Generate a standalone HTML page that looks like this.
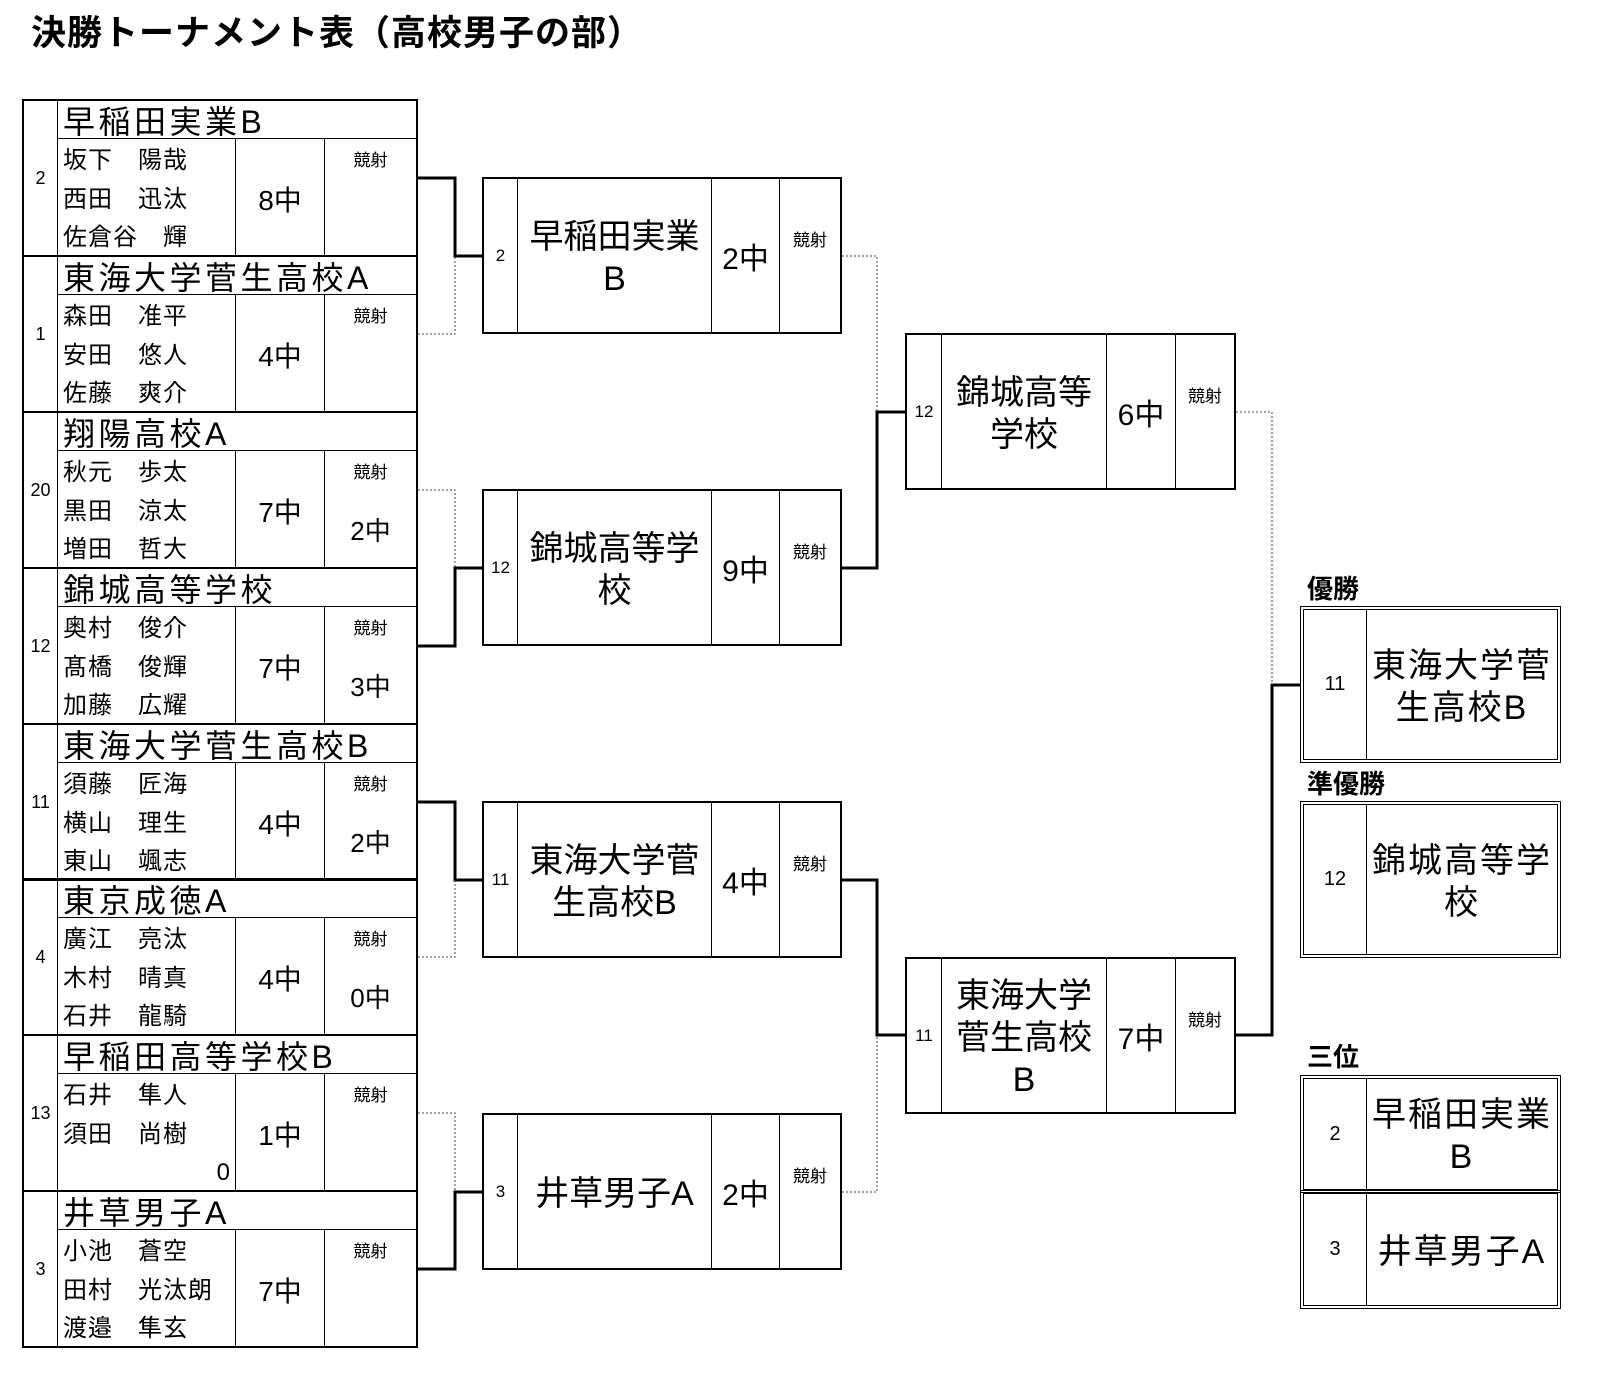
<!DOCTYPE html>
<html><head><meta charset="utf-8"><style>
*{box-sizing:border-box;margin:0;padding:0}
body{width:1613px;height:1388px;background:#fff;position:relative;overflow:hidden;font-family:"Liberation Sans","Noto Sans CJK JP",sans-serif;color:#000}
.a{position:absolute}
.title{left:31px;top:12px;font-size:35px;font-weight:bold;letter-spacing:1px;white-space:nowrap;line-height:44px}
.blk{position:absolute;left:22px;width:396px;height:158px;border:2px solid #000}
.blk .num{position:absolute;left:0;top:0;width:34px;height:154px;border-right:1px solid #000;display:flex;align-items:center;justify-content:center;font-size:18px}
.blk .tn{position:absolute;left:34px;top:0;width:358px;height:38px;border-bottom:1px solid #000;font-size:32px;line-height:42px;padding-left:5px;letter-spacing:3.5px;white-space:nowrap}
.blk .pl{position:absolute;left:34px;top:38px;width:178px;height:116px;border-right:1px solid #000;font-size:24px;line-height:38.5px;padding-left:5px;padding-top:3px;white-space:nowrap;letter-spacing:1px}
.blk .sc{position:absolute;left:212px;top:38px;width:89px;height:116px;border-right:1px solid #000;font-size:28px;display:flex;align-items:center;justify-content:center;padding-top:4px}
.blk .ky{position:absolute;left:301px;top:38px;width:91px;height:116px;text-align:center}
.ky .k{position:absolute;left:0;width:100%;top:12px;font-size:17px;line-height:20px}
.ky .s2{position:absolute;left:0;width:100%;top:64px;font-size:26px;line-height:32px}
.box{position:absolute;border:2px solid #000;height:157px}
.box div{position:absolute;top:0;height:100%}
.box .n{border-right:1px solid #000;display:flex;align-items:center;justify-content:center;font-size:17px}
.box .nm{border-right:1px solid #000;display:flex;align-items:center;justify-content:center;text-align:center;font-size:34px;line-height:42px;padding-top:4px}
.box .s{border-right:1px solid #000;display:flex;align-items:center;justify-content:center;font-size:30px}
.box .k{font-size:17px;text-align:center;padding-top:47px}
.fb{position:absolute;left:1300px;width:261px;border:4px double #000}
.fb .n{position:absolute;left:0;top:0;width:63px;height:100%;border-right:1px solid #000;display:flex;align-items:center;justify-content:center;font-size:20px}
.fb .nm{position:absolute;left:63px;top:0;right:0;height:100%;display:flex;align-items:center;justify-content:center;text-align:center;font-size:34px;line-height:42px;letter-spacing:2px;padding-top:4px}
.lab{position:absolute;left:1307px;font-size:26px;font-weight:bold;line-height:30px}
</style></head><body>
<div class="a title">決勝トーナメント表（高校男子の部）</div>

<div class="blk" style="top:99px"><div class="num">2</div><div class="tn">早稲田実業B</div><div class="pl">坂下　陽哉<br>西田　迅汰<br>佐倉谷　輝</div><div class="sc">8中</div><div class="ky"><div class="k">競射</div></div></div>
<div class="blk" style="top:255px"><div class="num">1</div><div class="tn">東海大学菅生高校A</div><div class="pl">森田　准平<br>安田　悠人<br>佐藤　爽介</div><div class="sc">4中</div><div class="ky"><div class="k">競射</div></div></div>
<div class="blk" style="top:411px"><div class="num">20</div><div class="tn">翔陽高校A</div><div class="pl">秋元　歩太<br>黒田　涼太<br>増田　哲大</div><div class="sc">7中</div><div class="ky"><div class="k">競射</div><div class="s2">2中</div></div></div>
<div class="blk" style="top:567px"><div class="num">12</div><div class="tn">錦城高等学校</div><div class="pl">奥村　俊介<br>髙橋　俊輝<br>加藤　広耀</div><div class="sc">7中</div><div class="ky"><div class="k">競射</div><div class="s2">3中</div></div></div>
<div class="blk" style="top:723px"><div class="num">11</div><div class="tn">東海大学菅生高校B</div><div class="pl">須藤　匠海<br>横山　理生<br>東山　颯志</div><div class="sc">4中</div><div class="ky"><div class="k">競射</div><div class="s2">2中</div></div></div>
<div class="blk" style="top:878px"><div class="num">4</div><div class="tn">東京成徳A</div><div class="pl">廣江　亮汰<br>木村　晴真<br>石井　龍騎</div><div class="sc">4中</div><div class="ky"><div class="k">競射</div><div class="s2">0中</div></div></div>
<div class="blk" style="top:1034px"><div class="num">13</div><div class="tn">早稲田高等学校B</div><div class="pl">石井　隼人<br>須田　尚樹<br><div style="text-align:right;padding-right:4px">0</div></div><div class="sc">1中</div><div class="ky"><div class="k">競射</div></div></div>
<div class="blk" style="top:1190px"><div class="num">3</div><div class="tn">井草男子A</div><div class="pl">小池　蒼空<br>田村　光汰朗<br>渡邉　隼玄</div><div class="sc">7中</div><div class="ky"><div class="k">競射</div></div></div>

<div class="box" style="left:482px;top:177px;width:360px"><div class="n" style="left:0;width:34px">2</div><div class="nm" style="left:34px;width:194px">早稲田実業<br>B</div><div class="s" style="left:228px;width:68px">2中</div><div class="k" style="left:296px;width:60px">競射</div></div>
<div class="box" style="left:482px;top:489px;width:360px"><div class="n" style="left:0;width:34px">12</div><div class="nm" style="left:34px;width:194px">錦城高等学<br>校</div><div class="s" style="left:228px;width:68px">9中</div><div class="k" style="left:296px;width:60px">競射</div></div>
<div class="box" style="left:482px;top:801px;width:360px"><div class="n" style="left:0;width:34px">11</div><div class="nm" style="left:34px;width:194px">東海大学菅<br>生高校B</div><div class="s" style="left:228px;width:68px">4中</div><div class="k" style="left:296px;width:60px">競射</div></div>
<div class="box" style="left:482px;top:1113px;width:360px"><div class="n" style="left:0;width:34px">3</div><div class="nm" style="left:34px;width:194px">井草男子A</div><div class="s" style="left:228px;width:68px">2中</div><div class="k" style="left:296px;width:60px">競射</div></div>

<div class="box" style="left:905px;top:333px;width:331px"><div class="n" style="left:0;width:35px">12</div><div class="nm" style="left:35px;width:165px">錦城高等<br>学校</div><div class="s" style="left:200px;width:69px">6中</div><div class="k" style="left:269px;width:58px">競射</div></div>
<div class="box" style="left:905px;top:957px;width:331px"><div class="n" style="left:0;width:35px">11</div><div class="nm" style="left:35px;width:165px">東海大学<br>菅生高校<br>B</div><div class="s" style="left:200px;width:69px">7中</div><div class="k" style="left:269px;width:58px">競射</div></div>

<div class="lab" style="top:574px">優勝</div>
<div class="fb" style="top:606px;height:157px"><div class="n">11</div><div class="nm">東海大学菅<br>生高校B</div></div>
<div class="lab" style="top:769px">準優勝</div>
<div class="fb" style="top:801px;height:157px"><div class="n">12</div><div class="nm">錦城高等学<br>校</div></div>
<div class="lab" style="top:1042px">三位</div>
<div class="fb" style="top:1075px;height:118px"><div class="n">2</div><div class="nm">早稲田実業<br>B</div></div>
<div class="fb" style="top:1190px;height:119px"><div class="n">3</div><div class="nm">井草男子A</div></div>

<svg class="a" style="left:0;top:0" width="1613" height="1388">
<g fill="none" stroke="#000" stroke-width="3">
<path d="M418,178 H455 V256 H482"/>
<path d="M418,646 H455 V568 H482"/>
<path d="M418,802 H455 V880 H482"/>
<path d="M418,1269 H455 V1192 H482"/>
<path d="M842,568 H877 V412 H905"/>
<path d="M842,880 H877 V1035 H905"/>
<path d="M1236,1035 H1272 V685 H1300"/>
</g>
<g fill="none" stroke="#444" stroke-width="1" stroke-dasharray="2,2">
<path d="M418,334 H455 V256"/>
<path d="M418,490 H455 V568"/>
<path d="M418,957 H455 V880"/>
<path d="M418,1113 H455 V1192"/>
<path d="M842,256 H877 V412"/>
<path d="M842,1192 H877 V1035"/>
<path d="M1236,412 H1272 V685"/>
</g>
</svg>
</body></html>
